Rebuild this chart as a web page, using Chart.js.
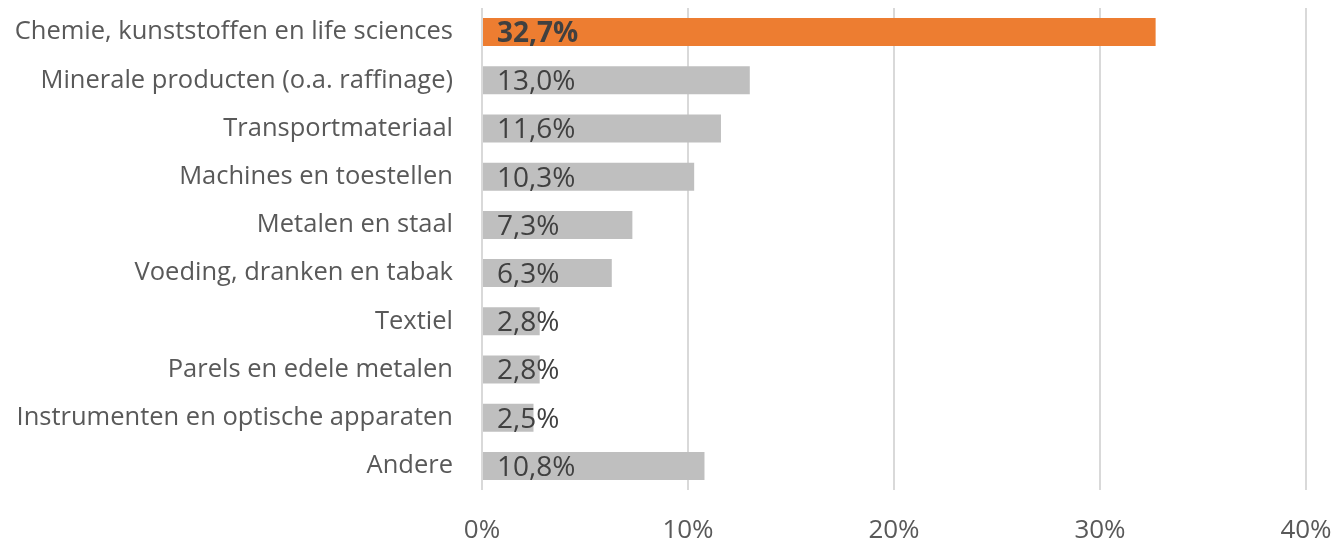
<!DOCTYPE html>
<html><head><meta charset="utf-8">
<script src="https://cdn.jsdelivr.net/npm/chart.js@4/dist/chart.umd.min.js"></script>
<style>html,body{margin:0;padding:0;background:#fff}#wrap{width:1344px;height:543px}</style>
</head><body><div id="wrap"><canvas id="c" width="1344" height="543"></canvas></div>
<script>
const categories = ["Chemie, kunststoffen en life sciences","Minerale producten (o.a. raffinage)","Transportmateriaal","Machines en toestellen","Metalen en staal","Voeding, dranken en tabak","Textiel","Parels en edele metalen","Instrumenten en optische apparaten","Andere"];
const shares = [32.7,13.0,11.6,10.3,7.3,6.3,2.8,2.8,2.5,10.8];
const xTicks = [0,10,20,30,40];

const FONT = "'Open Sans', sans-serif";
const labelPlugin = {
  id:'vals',
  afterDatasetsDraw(chart){
    const ctx = chart.ctx, meta = chart.getDatasetMeta(0), xs = chart.scales.x;
    ctx.save();
    ctx.textBaseline='middle'; ctx.textAlign='left';
    meta.data.forEach((bar,i)=>{
      ctx.font = (i===0?'bold ':'') + '28px ' + FONT;
      ctx.fillStyle = '#404040';
      const txt = shares[i].toFixed(1).replace('.',',') + '%';
      ctx.fillText(txt, xs.getPixelForValue(0)+15, bar.y+2);
    });
    ctx.restore();
  }
};

new Chart(document.getElementById('c'), {
  type:'bar',
  data:{labels:categories,datasets:[{data:shares,
    backgroundColor:shares.map((v,i)=>i===0?'#ED7D31':'#BFBFBF'),
    barPercentage:0.58,categoryPercentage:1.0,borderWidth:0}]},
  options:{
    indexAxis:'y',responsive:false,animation:false,
    layout:{padding:{left:0,right:38,top:8,bottom:0}},
    plugins:{legend:{display:false},tooltip:{enabled:false}},
    scales:{
      x:{min:0,max:40,
        afterBuildTicks(s){s.ticks=xTicks.map(v=>({value:v}));},
        afterFit(s){s.height=53;s.paddingLeft=0;s.paddingRight=0;},
        grid:{color:'#D9D9D9',lineWidth:2,drawTicks:false},
        border:{display:false},
        ticks:{padding:25,color:'#595959',font:{family:FONT,size:26},callback:v=>v+'%'}},
      y:{afterFit(s){s.width=482;s.paddingTop=0;s.paddingBottom=0;},
        grid:{display:false,drawTicks:false},border:{display:false},
        ticks:{padding:29,color:'#595959',font:{family:FONT,size:25.5}}}
    }
  },
  plugins:[labelPlugin]
});
</script></body></html>
